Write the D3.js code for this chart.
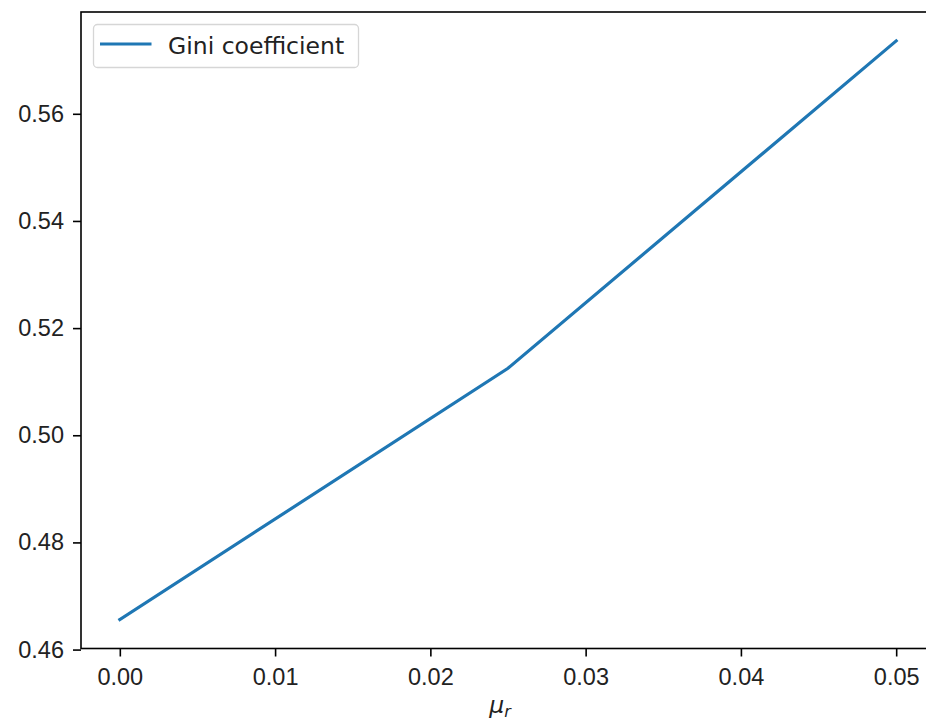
<!DOCTYPE html>
<html>
<head>
<meta charset="utf-8">
<script src="https://cdn.jsdelivr.net/npm/d3@7"></script>
<style>
  body { margin: 0; background: #fff; }
  svg { display: block; font-family: "DejaVu Sans", sans-serif; }
  .axis text { font-size: 23.5px; fill: #222; }
  .axis line { stroke: #000; stroke-width: 1.6px; }
</style>
</head>
<body>
<div id="chart"></div>
<script>
'use strict';
// Data.
var muR = [0.0, 0.025, 0.05];
var gini = [0.4656, 0.5125, 0.5736];
var xTicks = [0.00, 0.01, 0.02, 0.03, 0.04, 0.05];
var yTicks = [0.46, 0.48, 0.50, 0.52, 0.54, 0.56];
var seriesName = 'Gini coefficient';

var W = 926, H = 721;
var margin = {top: 12, left: 81, width: 854, height: 636.5};

var svg = d3.select('#chart').append('svg')
    .attr('width', W)
    .attr('height', H);

// matplotlib style 5% autoscale margins
function padded(arr) {
    var lo = d3.min(arr), hi = d3.max(arr), m = (hi - lo) * 0.05;
    return [lo - m, hi + m];
}

var xScale = d3.scaleLinear()
    .domain(padded(muR))
    .range([margin.left, margin.left + margin.width]);
var yScale = d3.scaleLinear()
    .domain(padded(gini))
    .range([margin.top + margin.height, margin.top]);

var bottom = margin.top + margin.height;

// x-axis
var xAxis = d3.axisBottom(xScale)
    .tickValues(xTicks)
    .tickFormat(d3.format('.2f'))
    .tickSize(8)
    .tickPadding(8);
var xg = svg.append('g')
    .attr('class', 'axis')
    .attr('transform', 'translate(0,' + bottom + ')')
    .call(xAxis);
xg.select('.domain').remove();
xg.selectAll('text').attr('dy', '20px');

// y-axis
var yAxis = d3.axisLeft(yScale)
    .tickValues(yTicks)
    .tickFormat(d3.format('.2f'))
    .tickSize(8)
    .tickPadding(9);
var yg = svg.append('g')
    .attr('class', 'axis')
    .attr('transform', 'translate(' + margin.left + ',0)')
    .call(yAxis);
yg.select('.domain').remove();

// Line.
var line = d3.line()
    .x(function(d, i) { return xScale(muR[i]); })
    .y(function(d) { return yScale(d); });
svg.append('path')
    .datum(gini)
    .attr('fill', 'none')
    .attr('stroke', '#1f77b4')
    .attr('stroke-width', 3.2)
    .attr('stroke-linecap', 'square')
    .attr('d', line);

// Spines.
svg.append('rect')
    .attr('x', margin.left)
    .attr('y', margin.top)
    .attr('width', margin.width)
    .attr('height', margin.height)
    .attr('fill', 'none')
    .attr('stroke', '#000')
    .attr('stroke-width', 1.6);

// x label: mu_r
var xl = svg.append('text')
    .attr('x', margin.left + margin.width / 2 - 8)
    .attr('y', 713)
    .attr('text-anchor', 'middle')
    .style('font-size', '23.5px')
    .style('font-style', 'italic')
    .attr('fill', '#222');
xl.append('tspan').text('\u03bc');
xl.append('tspan').attr('dy', '4').style('font-size', '16px').text('r');

// Legend.
var lg = svg.append('g');
lg.append('rect')
    .attr('x', 93.5)
    .attr('y', 24.5)
    .attr('width', 265)
    .attr('height', 43)
    .attr('rx', 4)
    .attr('fill', '#fff')
    .attr('fill-opacity', 0.8)
    .attr('stroke', '#d6d6d6')
    .attr('stroke-width', 1.3);
lg.append('line')
    .attr('x1', 100).attr('x2', 151.5)
    .attr('y1', 44).attr('y2', 44)
    .attr('stroke', '#1f77b4')
    .attr('stroke-width', 3.2);
lg.append('text')
    .attr('x', 168)
    .attr('y', 53.5)
    .style('font-size', '23.5px')
    .attr('fill', '#222')
    .text(seriesName);
</script>
</body>
</html>
